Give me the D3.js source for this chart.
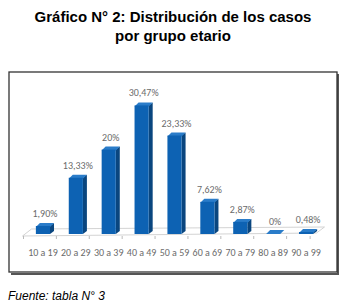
<!DOCTYPE html>
<html lang="es">
<head>
<meta charset="utf-8">
<title>Gráfico N° 2</title>
<script src="https://d3js.org/d3.v7.min.js"></script>
<style>
  body { margin: 0; background: #fff; }
  text { font-family: "Liberation Sans", Arial, sans-serif; }
  .cat, .val { font-family: Carlito, Calibri, "DejaVu Sans", sans-serif; fill: #6b6b6b; }
</style>
</head>
<body>
<script>
// datos
var categorias = ["10 a 19", "20 a 29", "30 a 39", "40 a 49", "50 a 59", "60 a 69", "70 a 79", "80 a 89", "90 a 99"];
var porcentajes = [1.90, 13.33, 20, 30.47, 23.33, 7.62, 2.87, 0, 0.48];
var etiquetas = ["1,90%", "13,33%", "20%", "30,47%", "23,33%", "7,62%", "2,87%", "0%", "0,48%"];

var w = 349, h = 307;
var base = 234;     // linea del piso
var depth = 4;      // profundidad 3d

var svg = d3.select("body").append("svg")
    .attr("width", w)
    .attr("height", h);

// titulo
svg.append("text").attr("x", 173).attr("y", 22)
    .attr("text-anchor", "middle")
    .style("font-weight", "bold").style("font-size", "15px")
    .text("Gráfico N° 2: Distribución de los casos");
svg.append("text").attr("x", 173).attr("y", 41)
    .attr("text-anchor", "middle")
    .style("font-weight", "bold").style("font-size", "15px")
    .text("por grupo etario");

// marco con sombra
svg.append("path")
    .attr("d", "M338,74 V274 H11")
    .attr("fill", "none").attr("stroke", "#555").attr("stroke-width", 2);
svg.append("rect")
    .attr("x", 9).attr("y", 72).attr("width", 328).attr("height", 200)
    .attr("fill", "#fff").attr("stroke", "#333").attr("stroke-width", 1.3);

// escalas
var x = d3.scaleBand().domain(categorias).range([26.5, 322.5]).paddingInner(0.57).paddingOuter(0.285);
var y = d3.scaleLinear().domain([0, 35]).range([base, base - 35 * 4.22]);

// piso
var x0 = x.range()[0] - 4, x1 = x.range()[1] - 6;
svg.append("path")
    .attr("d", "M" + x0 + "," + (base + 2) + " L" + x1 + "," + (base - 1) +
               " L" + (x1 + 8) + "," + (base - 7) + " L" + (x0 + 9) + "," + (base - 5) + " Z")
    .attr("fill", "#fff").attr("stroke", "#c8c8c8").attr("stroke-width", 0.8);

// marcas del eje
var bordes = categorias.map(function(c) { return x(c) - x.step() * x.paddingInner() / 2; });
bordes.push(x.range()[1] - x.step() * x.paddingInner() / 2);
svg.selectAll("line.tick").data(bordes).enter().append("line")
    .attr("class", "tick")
    .attr("x1", function(d) { return d - 3; }).attr("x2", function(d) { return d - 3; })
    .attr("y1", base + 2).attr("y2", base + 5)
    .attr("stroke", "#bbb");

// barras 3d
var datos = categorias.map(function(c, i) { return { cat: c, v: porcentajes[i], lab: etiquetas[i] }; });
var g = svg.selectAll("g.barra").data(datos).enter().append("g").attr("class", "barra");

g.append("path")  // lado
    .attr("fill", "#0a467f")
    .attr("d", function(d) {
        var xr = x(d.cat) + x.bandwidth(), yt = y(d.v);
        return "M" + xr + "," + base + " L" + (xr + depth) + "," + (base - depth + 1) +
               " L" + (xr + depth) + "," + (yt - depth + 1) + " L" + xr + "," + yt + " Z";
    });
g.append("path")  // tapa
    .attr("fill", "#2a7cc9")
    .attr("d", function(d) {
        var xl = x(d.cat), xr = xl + x.bandwidth(), yt = Math.min(y(d.v), base - 1);
        return "M" + xl + "," + (yt + 1) + " L" + (xl + depth) + "," + (yt - depth + 1) +
               " L" + (xr + depth) + "," + (yt - depth + 1) + " L" + xr + "," + (yt + 1) + " Z";
    });
g.append("rect")  // frente
    .attr("x", function(d) { return x(d.cat); })
    .attr("y", function(d) { return y(d.v); })
    .attr("width", x.bandwidth())
    .attr("height", function(d) { return base - y(d.v); })
    .attr("fill", "#0d62b3");

// etiquetas de valor
g.append("text").attr("class", "val")
    .attr("x", function(d) { return x(d.cat) + x.bandwidth() / 2 + 2; })
    .attr("y", function(d) { return y(d.v) - 9; })
    .attr("text-anchor", "middle")
    .style("font-size", "10px")
    .text(function(d) { return d.lab; });

// etiquetas de categoria
svg.selectAll("text.cat").data(categorias).enter().append("text")
    .attr("class", "cat")
    .attr("x", function(d) { return x(d) + x.bandwidth() / 2; })
    .attr("y", 256)
    .attr("text-anchor", "middle")
    .style("font-size", "10px")
    .text(function(d) { return d; });

// fuente
svg.append("text").attr("x", 8).attr("y", 300)
    .style("font-style", "italic").style("font-size", "12px")
    .text("Fuente: tabla N° 3");
</script>
</body>
</html>
